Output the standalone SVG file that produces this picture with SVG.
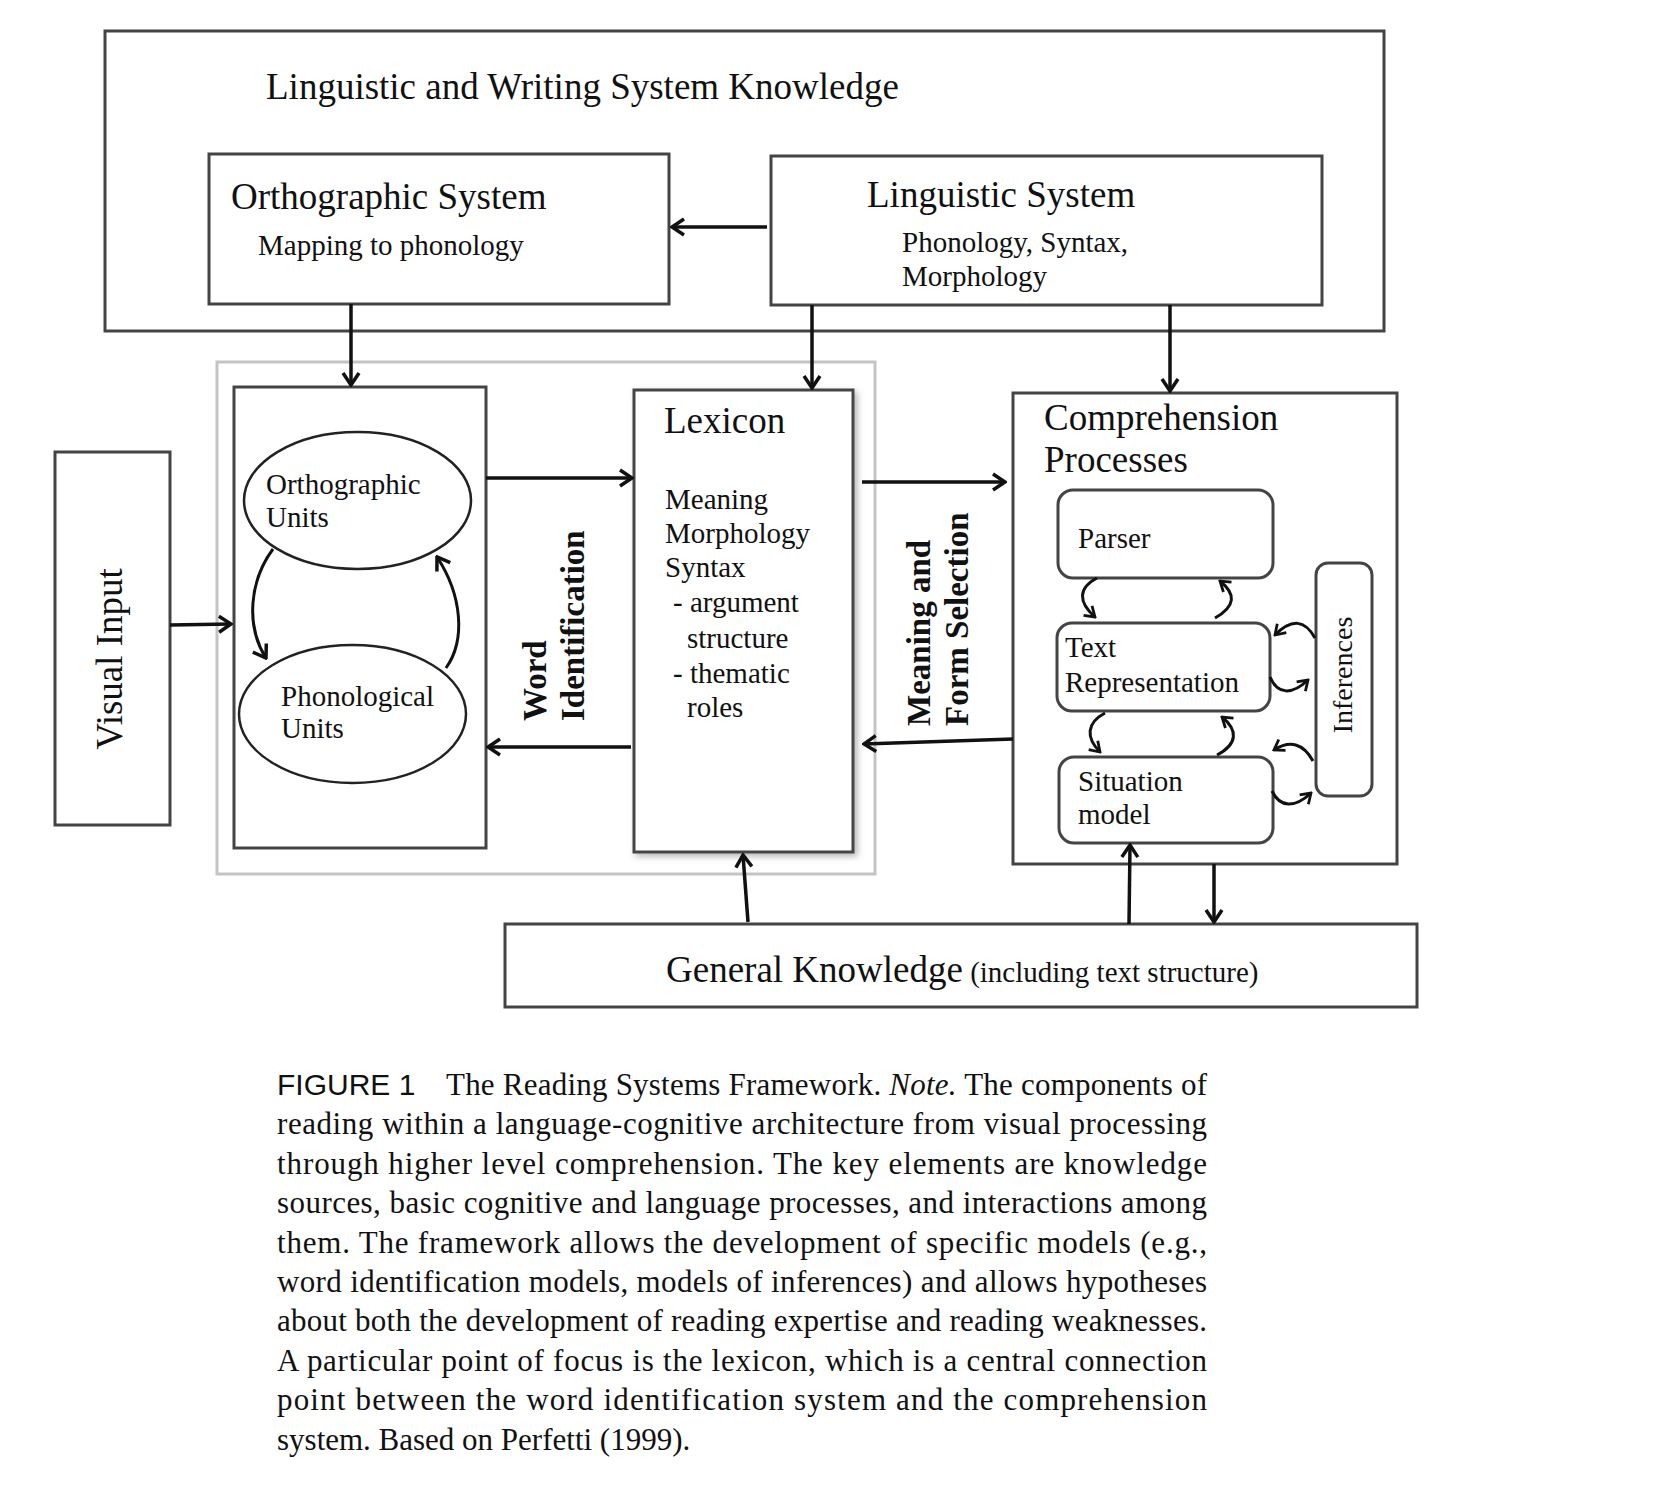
<svg xmlns="http://www.w3.org/2000/svg" width="1662" height="1492" viewBox="0 0 1662 1492">
<style>
.box{fill:#fff;stroke:#444;stroke-width:3}
.rbox{fill:#fff;stroke:#444;stroke-width:3}
.t{font-family:"Liberation Serif","Times New Roman",serif;fill:#111}
.b{font-weight:bold}
.c{stroke:#111;stroke-width:3.5;fill:none}
.cs{stroke:#111;stroke-width:3;fill:none}
.cap{font-family:"Liberation Serif","Times New Roman",serif;font-size:31px;fill:#111}
</style>
<defs>
<marker id="ah" viewBox="0 0 16 20" refX="14" refY="10" markerWidth="16" markerHeight="20" markerUnits="userSpaceOnUse" orient="auto">
<path d="M2,2 L14,10 L2,18" fill="none" stroke="#111" stroke-width="3.5"/>
</marker>
<marker id="ahs" viewBox="0 0 16 20" refX="14" refY="10" markerWidth="13" markerHeight="16" markerUnits="userSpaceOnUse" orient="auto">
<path d="M2,2 L14,10 L2,18" fill="none" stroke="#111" stroke-width="3.5"/>
</marker>
<filter id="sh" x="-10%" y="-10%" width="130%" height="130%">
<feDropShadow dx="3" dy="3" stdDeviation="3" flood-color="#888" flood-opacity="0.6"/>
</filter>
</defs>
<rect width="1662" height="1492" fill="#fff"/>

<g id="lwsk">
<rect class="box" x="105" y="31" width="1279" height="300"/>
<text class="t" x="266" y="99" font-size="37">Linguistic and Writing System Knowledge</text>
</g>

<g id="ortho-system">
<rect class="box" x="209" y="154" width="460" height="150"/>
<text class="t" x="231" y="209" font-size="37">Orthographic System</text>
<text class="t" x="258" y="255" font-size="29">Mapping to phonology</text>
</g>

<g id="ling-system">
<rect class="box" x="771" y="156" width="551" height="149"/>
<text class="t" x="867" y="207" font-size="37">Linguistic System</text>
<text class="t" x="902" y="252" font-size="29">Phonology, Syntax,</text>
<text class="t" x="902" y="286" font-size="29">Morphology</text>
</g>

<g id="container">
<rect x="217" y="362" width="658" height="512" fill="none" stroke="#c4c4c4" stroke-width="3"/>
</g>

<g id="visual-input">
<rect class="box" x="55" y="452" width="115" height="373"/>
<text class="t" font-size="37" text-anchor="middle" transform="translate(122,659) rotate(-90)">Visual Input</text>
</g>

<g id="word-id">
<rect class="box" x="234" y="387" width="252" height="461"/>
</g>

<g id="ortho-units">
<ellipse cx="357.5" cy="500.5" rx="113.5" ry="68.5" fill="#fff" stroke="#222" stroke-width="2.5"/>
<text class="t" x="266" y="494" font-size="29">Orthographic</text>
<text class="t" x="266" y="527" font-size="29">Units</text>
</g>

<g id="phono-units">
<ellipse cx="352.5" cy="714" rx="113.5" ry="69" fill="#fff" stroke="#222" stroke-width="2.5"/>
<text class="t" x="281" y="706" font-size="29">Phonological</text>
<text class="t" x="281" y="738" font-size="29">Units</text>
</g>

<g id="word-id-label">
<text class="t b" font-size="33" transform="translate(546,721) rotate(-90)">Word</text>
<text class="t b" font-size="33" transform="translate(584,721) rotate(-90)">Identification</text>
</g>

<g id="lexicon">
<rect class="box" x="634" y="390" width="219" height="462" filter="url(#sh)"/>
<text class="t" x="664" y="433" font-size="37">Lexicon</text>
<text class="t" x="665" y="509" font-size="29">Meaning</text>
<text class="t" x="665" y="543" font-size="29">Morphology</text>
<text class="t" x="665" y="577" font-size="29">Syntax</text>
<text class="t" x="673" y="612" font-size="29">- argument</text>
<text class="t" x="687" y="648" font-size="29">structure</text>
<text class="t" x="673" y="683" font-size="29">- thematic</text>
<text class="t" x="687" y="717" font-size="29">roles</text>
</g>

<g id="mfs-label">
<text class="t b" font-size="33" transform="translate(930,726) rotate(-90)">Meaning and</text>
<text class="t b" font-size="33" transform="translate(968,726) rotate(-90)">Form Selection</text>
</g>

<g id="comprehension">
<rect class="box" x="1013" y="393" width="384" height="471"/>
<text class="t" x="1044" y="430" font-size="37">Comprehension</text>
<text class="t" x="1044" y="472" font-size="37">Processes</text>
</g>

<g id="parser">
<rect class="rbox" x="1058" y="490" width="215" height="88" rx="15"/>
<text class="t" x="1078" y="548" font-size="29">Parser</text>
</g>

<g id="text-rep">
<rect class="rbox" x="1057" y="623" width="213" height="88" rx="15"/>
<text class="t" x="1065" y="657" font-size="29">Text</text>
<text class="t" x="1065" y="692" font-size="29">Representation</text>
</g>

<g id="situation">
<rect class="rbox" x="1059" y="757" width="214" height="86" rx="15"/>
<text class="t" x="1078" y="791" font-size="29">Situation</text>
<text class="t" x="1078" y="824" font-size="29">model</text>
</g>

<g id="inferences">
<rect class="rbox" x="1316" y="563" width="56" height="233" rx="12"/>
<text class="t" font-size="28" text-anchor="middle" transform="translate(1352,675) rotate(-90)">Inferences</text>
</g>

<g id="general-knowledge">
<rect class="box" x="505" y="924" width="912" height="83"/>
<text class="t" x="666" y="982"><tspan font-size="37">General Knowledge</tspan><tspan font-size="29"> (including text structure)</tspan></text>
</g>

<g id="connectors">
<path class="c" d="M767,227 L672,227" marker-end="url(#ah)"/>
<path class="c" d="M351,304 L351,385" marker-end="url(#ah)"/>
<path class="c" d="M812,305 L812,388" marker-end="url(#ah)"/>
<path class="c" d="M1170,305 L1170,391" marker-end="url(#ah)"/>
<path class="c" d="M170,625 L231,624" marker-end="url(#ah)"/>
<path class="cs" d="M273,549 C250,580 245,625 266,658" marker-end="url(#ah)"/>
<path class="cs" d="M446,668 C466,640 462,595 437,557" marker-end="url(#ah)"/>
<path class="c" d="M486,478 L632,478" marker-end="url(#ah)"/>
<path class="c" d="M631,747 L488,747" marker-end="url(#ah)"/>
<path class="c" d="M862,482 L1005,482" marker-end="url(#ah)"/>
<path class="c" d="M1013,739 L864,744" marker-end="url(#ah)"/>
<path class="c" d="M748,922 L743,855" marker-end="url(#ah)"/>
<path class="c" d="M1129,924 L1130,845" marker-end="url(#ah)"/>
<path class="c" d="M1214,864 L1214,922" marker-end="url(#ah)"/>
<path class="cs" d="M1097,578 C1078,588 1078,602 1095,617" marker-end="url(#ahs)"/>
<path class="cs" d="M1215,618 C1236,606 1236,594 1220,581" marker-end="url(#ahs)"/>
<path class="cs" d="M1105,713 C1086,723 1086,738 1100,752" marker-end="url(#ahs)"/>
<path class="cs" d="M1217,755 C1238,744 1238,730 1222,717" marker-end="url(#ahs)"/>
<path class="cs" d="M1315,638 C1305,620 1292,618 1275,635" marker-end="url(#ahs)"/>
<path class="cs" d="M1270,677 C1278,695 1292,695 1308,680" marker-end="url(#ahs)"/>
<path class="cs" d="M1313,761 C1303,743 1290,740 1274,750" marker-end="url(#ahs)"/>
<path class="cs" d="M1272,791 C1280,808 1295,808 1311,793" marker-end="url(#ahs)"/>
</g>

<g id="caption">
<text x="277" y="1095" font-family="Liberation Sans, Arial, sans-serif" font-size="30" fill="#111">FIGURE 1</text>
<text class="cap" x="446" y="1095" textLength="761" lengthAdjust="spacing">The Reading Systems Framework. <tspan font-style="italic">Note.</tspan> The components of</text>
<text class="cap" x="277" y="1134" textLength="930" lengthAdjust="spacing">reading within a language-cognitive architecture from visual processing</text>
<text class="cap" x="277" y="1174" textLength="930" lengthAdjust="spacing">through higher level comprehension. The key elements are knowledge</text>
<text class="cap" x="277" y="1213" textLength="930" lengthAdjust="spacing">sources, basic cognitive and language processes, and interactions among</text>
<text class="cap" x="277" y="1253" textLength="930" lengthAdjust="spacing">them. The framework allows the development of specific models (e.g.,</text>
<text class="cap" x="277" y="1292" textLength="930" lengthAdjust="spacing">word identification models, models of inferences) and allows hypotheses</text>
<text class="cap" x="277" y="1331" textLength="930" lengthAdjust="spacing">about both the development of reading expertise and reading weaknesses.</text>
<text class="cap" x="277" y="1371" textLength="930" lengthAdjust="spacing">A particular point of focus is the lexicon, which is a central connection</text>
<text class="cap" x="277" y="1410" textLength="930" lengthAdjust="spacing">point between the word identification system and the comprehension</text>
<text class="cap" x="277" y="1450">system. Based on Perfetti (1999).</text>
</g>
</svg>
